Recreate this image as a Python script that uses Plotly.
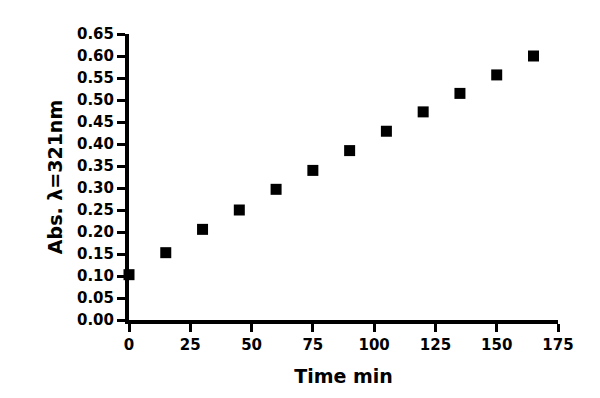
import plotly.graph_objects as go

time_min = [0, 15, 30, 45, 60, 75, 90, 105, 120, 135, 150, 165]
absorbance = [0.103, 0.153, 0.206, 0.250, 0.297, 0.340, 0.385, 0.429, 0.473, 0.515, 0.557, 0.600]
x_ticks = [0, 25, 50, 75, 100, 125, 150, 175]
y_ticks = [round(i * 0.05, 2) for i in range(14)]

fig = go.Figure(go.Scatter(
    x=time_min, y=absorbance, mode="markers",
    marker=dict(symbol="square", size=11, color="black"),
    cliponaxis=False,
))

font = "DejaVu Sans, Liberation Sans, Arial, sans-serif"
fig.update_layout(
    width=600, height=398,
    margin=dict(l=121, r=50, t=26, b=86),
    paper_bgcolor="white", plot_bgcolor="white",
    showlegend=False,
    font=dict(family=font, color="black"),
    xaxis=dict(
        range=[0, 175], tickvals=x_ticks, ticktext=[str(v) for v in x_ticks],
        showgrid=False, zeroline=False, showline=True, linecolor="black", linewidth=4,
        ticks="outside", ticklen=8, tickwidth=3, tickcolor="black",
        tickfont=dict(size=15, family=font, weight="bold"),
        title=dict(text="<b>Time min</b>", font=dict(size=19, family=font), standoff=18),
        automargin=False,
    ),
    yaxis=dict(
        range=[0, 0.65], tickvals=y_ticks, ticktext=[f"{v:.2f}" for v in y_ticks],
        showgrid=False, zeroline=False, showline=True, linecolor="black", linewidth=4,
        ticks="outside", ticklen=8, tickwidth=3, tickcolor="black",
        tickfont=dict(size=15, family=font, weight="bold"),
        title=dict(text="<b>Abs. λ=321nm</b>", font=dict(size=19, family=font), standoff=10),
        automargin=False,
    ),
)
fig.write_html("out.html")
